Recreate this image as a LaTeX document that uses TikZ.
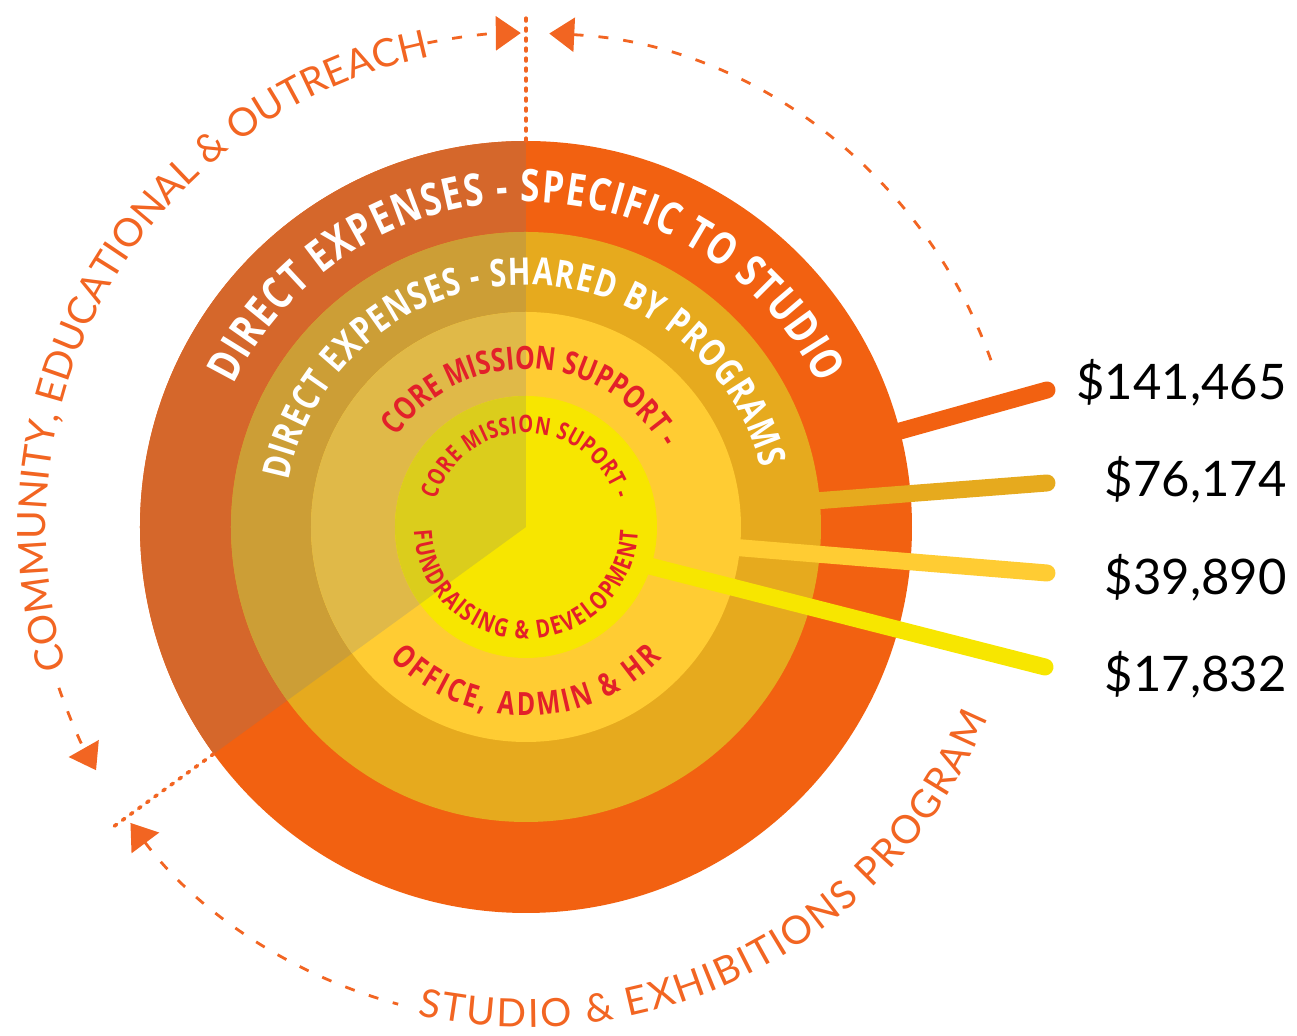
\documentclass[tikz,border=0pt]{standalone}
\usepackage{fontspec}
\usetikzlibrary{arrows.meta,decorations.text}
\newfontfamily\ringfont[FakeStretch=0.78]{Open Sans}
\newfontfamily\arcfont{Lato}
\definecolor{ringOne}{HTML}{F26111}
\definecolor{ringOneDark}{HTML}{D5672B}
\definecolor{ringTwo}{HTML}{E6AA1E}
\definecolor{ringTwoDark}{HTML}{CC9E36}
\definecolor{ringThree}{HTML}{FFCC33}
\definecolor{ringThreeDark}{HTML}{E0B948}
\definecolor{ringFour}{HTML}{F7E600}
\definecolor{ringFourDark}{HTML}{DBCD1C}
\definecolor{labelred}{HTML}{E3202A}
\definecolor{arcorange}{HTML}{F26522}
\tikzset{
	ringlabel/.style={decorate, decoration={text along path, text align=fit to path, #1}},
	dasharc/.style={arcorange, line width=1.4pt, dash pattern=on 5pt off 7.5pt},
	arctip/.tip={Triangle[length=12.5pt, width=17pt]},
	dotline/.style={arcorange, line width=1.8pt, line cap=round, dash pattern=on 1.4pt off 3.6pt},
	valueline/.style={line width=8.5pt, line cap=round},
	valuelabel/.style={font=\arcfont\fontsize{24.5}{30}\selectfont, inner sep=0pt}
}
\begin{document}
\begin{tikzpicture}[x=0.5pt, y=0.5pt]
		\useasboundingbox (-526,-509) rectangle (771,527);
		
		% rings, each with its darker left sector
		\fill[ringOne] (0,0) circle [radius=386];
		\fill[ringOneDark] (0,0) -- (90:386) arc [start angle=90, end angle=216, radius=386] -- cycle;
		\fill[ringTwo] (0,0) circle [radius=295];
		\fill[ringTwoDark] (0,0) -- (90:295) arc [start angle=90, end angle=216, radius=295] -- cycle;
		\fill[ringThree] (0,0) circle [radius=215];
		\fill[ringThreeDark] (0,0) -- (90:215) arc [start angle=90, end angle=216, radius=215] -- cycle;
		\fill[ringFour] (0,0) circle [radius=131];
		\fill[ringFourDark] (0,0) -- (90:131) arc [start angle=90, end angle=216, radius=131] -- cycle;
		
		% value lines and labels
		\coordinate (v1a) at (342,87);
		\coordinate (v1b) at (521,137);
		\coordinate (v2a) at (250,23);
		\coordinate (v2b) at (521,44);
		\coordinate (v3a) at (180,-18);
		\coordinate (v3b) at (521,-46);
		\coordinate (v4a) at (100,-33);
		\coordinate (v4b) at (519,-140);
		\draw[valueline, ringOne] (v1a) -- (v1b);
		\draw[valueline, ringTwo] (v2a) -- (v2b);
		\draw[valueline, ringThree] (v3a) -- (v3b);
		\draw[valueline, ringFour] (v4a) -- (v4b);
		\node[valuelabel, anchor=base east] (v1) at (761,127) {\$141,465};
		\node[valuelabel, anchor=base east] (v2) at (761,30) {\$76,174};
		\node[valuelabel, anchor=base east] (v3) at (761,-68) {\$39,890};
		\node[valuelabel, anchor=base east] (v4) at (761,-165) {\$17,832};
		
		% ring texts
		\path[ringlabel={text color=white, text={|\ringfont\bfseries\fontsize{22.4}{24}\selectfont|DIRECT EXPENSES - SPECIFIC TO STUDIO}}]
			(154:325) arc [start angle=154, end angle=26, radius=325];
		\path[ringlabel={text color=white, text={|\ringfont\bfseries\fontsize{19}{21}\selectfont|DIRECT EXPENSES - SHARED BY PROGRAMS}}]
			(169:242) arc [start angle=169, end angle=14, radius=242];
		\path[ringlabel={text color=labelred, text={|\ringfont\bfseries\fontsize{16}{18}\selectfont|CORE MISSION SUPPORT -}}]
			(145:158) arc [start angle=145, end angle=30, radius=158];
		\path[ringlabel={text color=labelred, text={|\ringfont\bfseries\fontsize{16}{18}\selectfont|OFFICE, ADMIN {\&} HR}}]
			(224:189) arc [start angle=224, end angle=316, radius=189];
		\path[ringlabel={text color=labelred, text={|\ringfont\bfseries\fontsize{12}{14}\selectfont|CORE MISSION SUPORT -}}]
			(163:94) arc [start angle=163, end angle=17, radius=94];
		\path[ringlabel={text color=labelred, text={|\ringfont\bfseries\fontsize{12.5}{14}\selectfont|FUNDRAISING {\&} DEVELOPMENT}}]
			(182:112) arc [start angle=182, end angle=358, radius=112];
		
		% program arcs
		\draw[dotline] (90:386) -- (90:510);
		\draw[dotline] (216:386) -- (216:510);
		\draw[dasharc, -arctip] (101.5:494) arc [start angle=101.5, end angle=90.6, radius=494];
		\draw[dasharc, -arctip] (199:494) arc [start angle=199, end angle=209.5, radius=494];
		\draw[dasharc, arctip-] (87.3:494) arc [start angle=87.3, end angle=18.5, radius=494];
		\draw[dasharc, arctip-] (216.8:494) arc [start angle=216.8, end angle=255, radius=494];
		\path[ringlabel={text color=arcorange, text={|\arcfont\fontsize{19.5}{22}\selectfont|COMMUNITY, EDUCATIONAL {\&} OUTREACH}}]
			(197:480) arc [start angle=197, end angle=103, radius=480];
		\path[ringlabel={text color=arcorange, text={|\arcfont\fontsize{19.5}{22}\selectfont|STUDIO {\&} EXHIBITIONS PROGRAM}}]
			(257.5:500) arc [start angle=257.5, end angle=337.5, radius=500];
\end{tikzpicture}
\end{document}
